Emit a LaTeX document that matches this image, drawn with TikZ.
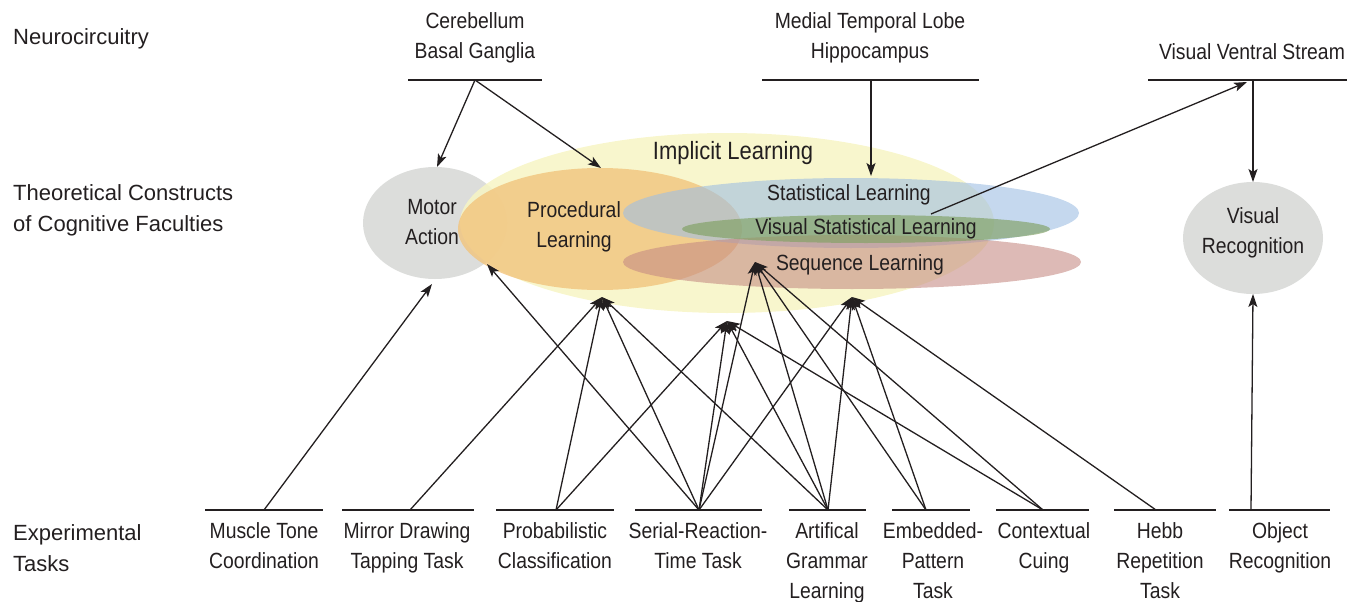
\documentclass[tikz,border=0pt]{standalone}
\usepackage{fontspec}
\setmainfont{Liberation Sans}
\newfontfamily\cond[FakeStretch=0.88]{Liberation Sans}
\usetikzlibrary{arrows.meta,shapes.geometric}
\definecolor{grayfill}{RGB}{220,221,219}
\definecolor{implfill}{RGB}{247,245,196}
\definecolor{procfill}{RGB}{242,196,125}
\definecolor{statfill}{RGB}{158,190,227}
\definecolor{seqfill}{RGB}{198,140,133}
\definecolor{vslfill}{RGB}{128,160,98}
\definecolor{ink}{RGB}{35,31,32}
\begin{document}
\begin{tikzpicture}[x=1pt,y=-1pt,
  lbl/.style={font=\fontsize{22}{31}\selectfont, text=ink, anchor=north west, inner sep=0pt, align=left},
  txt/.style={font=\cond\fontsize{22}{30}\selectfont, text=ink, inner sep=0pt, align=center, anchor=north},
  blob/.style={ellipse, inner sep=0pt, draw=none},
  bar/.style={line width=2.8pt, draw=ink},
  conn/.style={line width=1.3pt, draw=ink, -{Stealth[length=13pt,width=9pt,inset=3pt]}}]

\useasboundingbox (0,0) rectangle (1347,602);

% ---------- ellipses ----------
\node[blob, fill=grayfill, minimum width=144pt, minimum height=112pt] (motor) at (435,223) {};
\node[blob, fill=implfill, fill opacity=0.85, minimum width=534pt, minimum height=180pt] (impl) at (727,223) {};
\node[blob, fill=procfill, fill opacity=0.8, minimum width=284pt, minimum height=122pt] (proc) at (600,229) {};
\node[blob, fill=statfill, fill opacity=0.6, minimum width=456pt, minimum height=70pt] (stat) at (851,213) {};
\node[blob, fill=seqfill, fill opacity=0.6, minimum width=458pt, minimum height=54pt] (seq) at (852,262) {};
\node[blob, fill=vslfill, fill opacity=0.65, minimum width=368pt, minimum height=28pt] (vsl) at (866,229) {};
\node[blob, fill=grayfill, minimum width=140pt, minimum height=112pt] (visrec) at (1253,238) {};

% ---------- texts in ellipses ----------
\node[txt, font=\cond\fontsize{25}{30}\selectfont] (timpl) at (733,141) {Implicit Learning};
\node[txt] (tmotor) at (432,199) {Motor\\Action};
\node[txt] (tproc) at (574,201) {Procedural\\Learning};
\node[txt] (tstat) at (849,184) {Statistical Learning};
\node[txt] (tvsl) at (866,218) {Visual Statistical Learning};
\node[txt] (tseq) at (860,254) {Sequence Learning};
\node[txt] (tvis) at (1253,207) {Visual\\Recognition};

% ---------- row labels ----------
\node[lbl] (rneuro) at (13,28) {Neurocircuitry};
\node[lbl] (rtheo) at (13,184) {Theoretical Constructs\\of Cognitive Faculties};
\node[lbl] (rtask) at (13,524) {Experimental\\Tasks};

% ---------- neurocircuitry ----------
\node[txt] (ncb) at (475,12) {Cerebellum\\Basal Ganglia};
\node[txt] (nmtl) at (870,12) {Medial Temporal Lobe\\Hippocampus};
\node[txt] (nvvs) at (1252,43) {Visual Ventral Stream};
\draw[bar] (408,80) -- (542,80);
\draw[bar] (762,80) -- (979,80);
\draw[bar] (1148,80) -- (1347,80);
\coordinate (cereb) at (475,80);
\coordinate (mtl) at (871,80);
\coordinate (vvs) at (1253,80);
\coordinate (vvsIn) at (1247,82);

% ---------- targets ----------
\coordinate (motorT) at (437,167);
\coordinate (motorB) at (432,284);
\coordinate (procT) at (601,168);
\coordinate (procL) at (487,264);
\coordinate (procB) at (602,297);
\coordinate (implB) at (727,321);
\coordinate (seqB) at (755,262);
\coordinate (statB) at (852,297);
\coordinate (statT) at (871,176);
\coordinate (visT) at (1253,182);
\coordinate (visB) at (1253,294);
\coordinate (vslR) at (931,214);

% ---------- tasks ----------
\draw[bar] (205,510) -- (323,510);
\draw[bar] (342,510) -- (474,510);
\draw[bar] (496,510) -- (614,510);
\draw[bar] (635,510) -- (762,510);
\draw[bar] (789,510) -- (866,510);
\draw[bar] (892,510) -- (970,510);
\draw[bar] (996,510) -- (1089,510);
\draw[bar] (1114,510) -- (1216,510);
\draw[bar] (1229,510) -- (1330,510);
\coordinate (fMuscle) at (264,510);
\coordinate (fMirror) at (410,510);
\coordinate (fProb) at (556,510);
\coordinate (fSerial) at (699,510);
\coordinate (fArtif) at (828,510);
\coordinate (fEmbed) at (926,510);
\coordinate (fCont) at (1043,510);
\coordinate (fHebb) at (1156,510);
\coordinate (fObject) at (1251,510);

\node[txt] (tmuscle) at (264,522) {Muscle Tone\\Coordination};
\node[txt] (tmirror) at (407,522) {Mirror Drawing\\Tapping Task};
\node[txt] (tprob) at (555,522) {Probabilistic\\Classification};
\node[txt] (tserial) at (698,522) {Serial-Reaction-\\Time Task};
\node[txt] (tartif) at (827,522) {Artifical\\Grammar\\Learning};
\node[txt] (tembed) at (933,522) {Embedded-\\Pattern\\Task};
\node[txt] (tcont) at (1044,522) {Contextual\\Cuing};
\node[txt] (thebb) at (1160,522) {Hebb\\Repetition\\Task};
\node[txt] (tobject) at (1280,522) {Object\\Recognition};

% ---------- connectors ----------
\draw[conn] (cereb) -- (motorT);
\draw[conn] (cereb) -- (procT);
\draw[conn] (mtl) -- (statT);
\draw[conn] (vvs) -- (visT);
\draw[conn] (vslR) -- (vvsIn);

\draw[conn] (fMuscle) -- (motorB);
\draw[conn] (fMirror) -- (procB);
\draw[conn] (fProb) -- (procB);
\draw[conn] (fProb) -- (implB);
\draw[conn] (fSerial) -- (procL);
\draw[conn] (fSerial) -- (procB);
\draw[conn] (fSerial) -- (implB);
\draw[conn] (fSerial) -- (seqB);
\draw[conn] (fSerial) -- (statB);
\draw[conn] (fArtif) -- (procB);
\draw[conn] (fArtif) -- (implB);
\draw[conn] (fArtif) -- (seqB);
\draw[conn] (fArtif) -- (statB);
\draw[conn] (fEmbed) -- (seqB);
\draw[conn] (fEmbed) -- (statB);
\draw[conn] (fCont) -- (implB);
\draw[conn] (fCont) -- (seqB);
\draw[conn] (fHebb) -- (statB);
\draw[conn] (fObject) -- (visB);
\end{tikzpicture}
\end{document}
